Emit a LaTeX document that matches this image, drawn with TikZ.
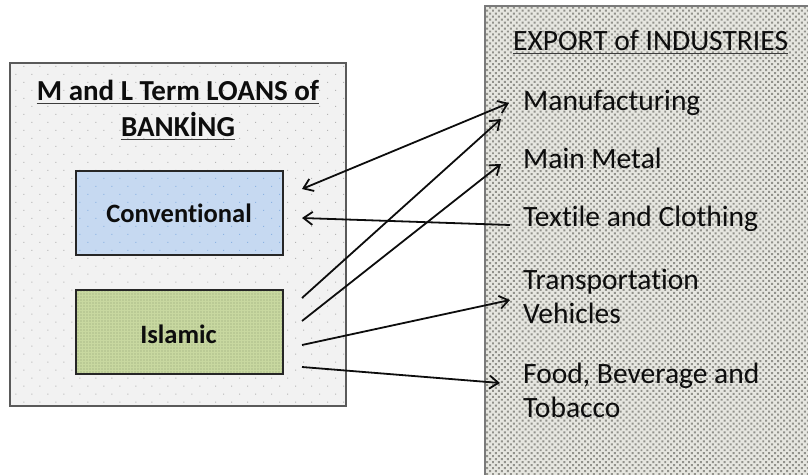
\documentclass[tikz,border=0pt]{standalone}
\usepackage{fontspec}
\setmainfont{Carlito}[Ligatures=NoCommon]
\usetikzlibrary{patterns.meta,arrows.meta}
\definecolor{panelfill}{HTML}{F2F2F2}
\definecolor{paneldot}{HTML}{B4B4B4}
\definecolor{panelline}{HTML}{5A5A5A}
\definecolor{convfill}{HTML}{C6D9F1}
\definecolor{convdot}{HTML}{8DB3E2}
\definecolor{islfill}{HTML}{C8D8A0}
\definecolor{isldot}{HTML}{8E9C72}
\definecolor{expfill}{HTML}{E6E6E0}
\definecolor{expdot}{HTML}{92928C}
\definecolor{expline}{HTML}{7A7A7A}
\definecolor{boxline}{HTML}{262626}
\definecolor{inkc}{HTML}{0D0D0D}
\begin{document}
\begin{tikzpicture}[x=1pt,y=-1pt,
  panel/.style={draw=panelline, line width=2pt, preaction={fill=panelfill},
    pattern={Dots[distance=11.3pt, angle=45, radius=0.7pt]}, pattern color=paneldot},
  convbox/.style={draw=boxline, line width=2pt, preaction={fill=convfill},
    pattern={Dots[distance=11.3pt, angle=45, radius=0.7pt]}, pattern color=convdot},
  islbox/.style={draw=boxline, line width=2pt, preaction={fill=islfill},
    pattern={Dots[distance=3pt, radius=0.7pt]}, pattern color=isldot},
  expbox/.style={draw=expline, line width=2pt, preaction={fill=expfill},
    pattern={Dots[distance=4.2pt, angle=45, radius=1.4pt]}, pattern color=expdot},
  boxtxt/.style={inner sep=0pt, font=\bfseries\fontsize{26.5}{31}\selectfont, text=inkc},
  txt/.style={inner sep=0pt, font=\fontsize{29.5}{34}\selectfont, text=inkc, align=left},
  ttl/.style={inner sep=0pt, font=\bfseries\fontsize{29}{34}\selectfont, text=inkc},
  uline/.style={draw=inkc!80, line width=1.6pt},
  arr/.style={draw=inkc, line width=1.8pt, -{Straight Barb[length=9pt,width=13pt]}},
  darr/.style={draw=inkc, line width=1.8pt, {Straight Barb[length=9pt,width=13pt]}-{Straight Barb[length=9pt,width=13pt]}}
]
\useasboundingbox (0,0) rectangle (808,474);
\fill[white] (0,0) rectangle (808,474);
% left panel
\node[panel, anchor=north west, minimum width=336, minimum height=343, inner sep=0pt] (loans) at (9,62) {};
\node[ttl, anchor=base] (title1) at (178,100) {M and L Term LOANS of};
\node[ttl, anchor=base] (title2) at (178,136) {BANKİNG};
\draw[uline] ([yshift=-3.5pt]title1.base west) -- ([yshift=-3.5pt]title1.base east);
\draw[uline] ([yshift=-3.5pt]title2.base west) -- ([yshift=-3.5pt]title2.base east);
\node[convbox, anchor=north west, minimum width=207, minimum height=84, inner sep=0pt] (conv) at (75,170) {};
\node[boxtxt, anchor=base] (convt) at (179,222) {Conventional};
\node[islbox, anchor=north west, minimum width=207, minimum height=84, inner sep=0pt] (isl) at (75,289) {};
\node[boxtxt, anchor=base] (islt) at (178.5,343) {Islamic};
% right panel
\begin{scope}
\clip (0,0) rectangle (808,474);
\node[expbox, anchor=north west, minimum width=340, minimum height=480, inner sep=0pt] (export) at (484,5) {};
\end{scope}
\node[txt, anchor=base west] (exptitle) at (513,50) {EXPORT of INDUSTRIES};
\draw[uline] ([yshift=-3.5pt]exptitle.base west) -- ([yshift=-3.5pt]exptitle.base east);
\node[txt, anchor=base west] (manu) at (523,110) {Manufacturing};
\node[txt, anchor=base west] (metal) at (523,168) {Main Metal};
\node[txt, anchor=base west] (textile) at (523,226) {Textile and Clothing};
\node[txt, anchor=base west] (trans) at (523,323) {Transportation\\Vehicles};
\node[txt, anchor=base west] (food) at (523,417) {Food, Beverage and\\Tobacco};
% connector ends
\coordinate (manuA) at (509,103);
\coordinate (manuB) at (501,119);
\coordinate (metalA) at (501,164);
\coordinate (textA) at (510,225);
\coordinate (transA) at (510,300);
\coordinate (foodA) at (500,383);
\coordinate (convA) at (302,189);
\coordinate (convB) at (302,218);
\coordinate (islA) at (302,298);
\coordinate (islB) at (302,321);
\coordinate (islC) at (302,345);
\coordinate (islD) at (302,367);
% connectors
\draw[darr] (convA) -- (manuA);
\draw[arr] (textA) -- (convB);
\draw[arr] (islA) -- (manuB);
\draw[arr] (islB) -- (metalA);
\draw[arr] (islC) -- (transA);
\draw[arr] (islD) -- (foodA);
\end{tikzpicture}
\end{document}
